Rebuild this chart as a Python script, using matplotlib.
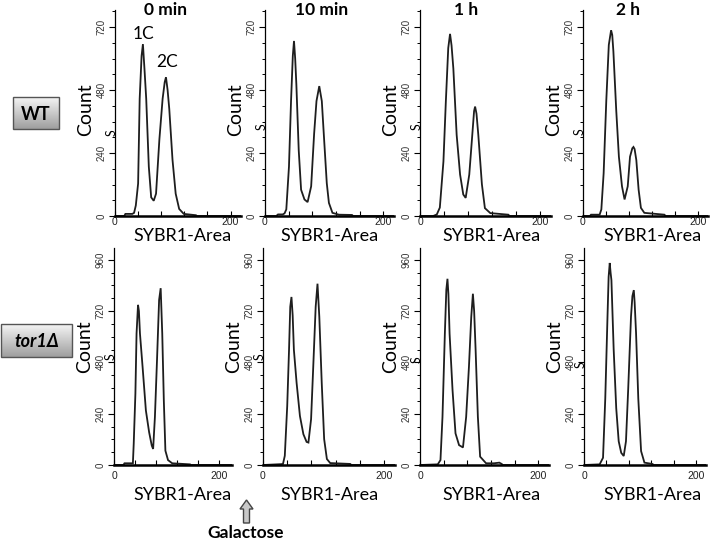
import numpy as np
import matplotlib
matplotlib.use("Agg")
import matplotlib.pyplot as plt
from matplotlib.patches import Polygon, Rectangle
from matplotlib.ticker import FixedLocator, MultipleLocator

# ---------------- data ----------------
titles = ["0 min", "10 min", "1 h", "2 h"]
row_labels = ["WT", "tor1Δ"]
x_label = "SYBR1-Area"
y_label = "Count"

wt0_x = [0, 16, 18, 30, 33, 36, 40, 42.7, 46, 48.3, 51, 54, 58.5, 62.6, 67, 71, 76.8, 82.4, 86, 88.2, 91, 93.9, 99.5, 105, 111, 119, 140, 142, 218]
wt0_y = [0, 0, 8, 8, 12, 40, 124, 447, 610, 655, 560, 447, 188, 71, 58, 85, 292, 447, 510, 529, 480, 408, 214, 85, 27, 8, 3, 0, 0]

wt10_x = [0, 19, 22, 30, 33, 36, 40.5, 44, 47, 49, 51, 53, 57, 61, 66.7, 72, 78, 83, 87, 91.7, 96, 100, 104.4, 108, 114, 125, 147, 149, 218]
wt10_y = [0, 0, 6, 6, 10, 25, 188, 438, 610, 667, 600, 501, 250, 100, 63, 53, 113, 313, 438, 495, 438, 288, 125, 50, 12, 5, 4, 0, 0]

wt1h_x = [0, 22, 28, 33, 39, 43, 47, 50, 52.5, 55.5, 61, 66.7, 72, 76, 82, 87, 90, 91.7, 94, 97, 103, 108, 117, 147, 149, 218]
wt1h_y = [0, 0, 6, 32, 208, 436, 640, 694, 650, 562, 309, 158, 82, 69, 158, 309, 400, 417, 390, 310, 121, 30, 11, 5, 0, 0]

wt2h_x = [0, 12, 14, 29, 32, 36, 40.6, 45, 49, 51, 53, 58, 62.6, 68, 72.5, 78, 82, 86, 88, 90, 93, 97, 101, 107, 142, 144, 218]
wt2h_y = [0, 0, 5, 5, 25, 163, 439, 652, 708, 690, 627, 401, 226, 113, 63, 113, 226, 258, 263, 255, 213, 100, 31, 12, 5, 0, 0]

tor0_x = [0, 18, 20, 36, 37.6, 40.8, 43, 45.8, 47.5, 49.5, 54.5, 60.8, 67, 72, 74.6, 78, 82, 86, 89, 92, 95, 98, 103, 111, 145, 147, 225]
tor0_y = [0, 0, 8, 8, 99, 334, 615, 749, 720, 615, 459, 255, 153, 91, 75, 224, 490, 772, 827, 615, 302, 67, 23, 8, 3, 0, 0]

tor10_x = [0, 30, 33, 36, 40, 43, 45, 47, 49, 51, 55.5, 61, 66.7, 72, 75, 79.4, 83, 87, 90, 93, 97, 101, 105.5, 111, 144, 146, 218]
tor10_y = [0, 4, 5, 43, 276, 539, 740, 786, 700, 539, 384, 229, 144, 108, 105, 214, 461, 740, 848, 693, 384, 121, 28, 9, 5, 0, 0]

tor1h_x = [0, 30, 34.6, 38, 42, 44.5, 46.4, 48, 50, 55, 60, 66, 72.6, 78, 82.7, 86.6, 89.4, 91.5, 94, 97.8, 101.6, 111.7, 125, 134, 138, 140, 218]
tor1h_y = [0, 3, 23, 225, 614, 820, 871, 800, 614, 350, 148, 93, 82, 225, 459, 692, 801, 720, 537, 225, 39, 8, 8, 11, 5, 0, 0]

tor2h_x = [0, 28, 34, 38, 42, 44, 46, 47.5, 49, 53, 57.6, 62, 66.5, 71, 75, 79, 84, 86.5, 89, 90.5, 93, 97, 102, 108, 122, 125, 218]
tor2h_y = [0, 3, 34, 311, 695, 880, 945, 900, 865, 542, 265, 111, 57, 42, 111, 357, 695, 790, 818, 760, 618, 311, 65, 11, 5, 0, 0]

series = [[(wt0_x, wt0_y), (wt10_x, wt10_y), (wt1h_x, wt1h_y), (wt2h_x, wt2h_y)],
          [(tor0_x, tor0_y), (tor10_x, tor10_y), (tor1h_x, tor1h_y), (tor2h_x, tor2h_y)]]

y_ticks_top = [0, 240, 480, 720]
y_ticks_bot = [0, 240, 480, 720, 960]
x_ticks = [0, 200]

# ---------------- layout (pixels) ----------------
W, H = 712, 540
fig = plt.figure(figsize=(W / 100, H / 100), dpi=100)
fig.patch.set_facecolor("white")

lefts = [[115, 265, 420, 583], [114, 263, 420, 584]]
widths = [[126, 129, 131, 125], [118, 132, 129, 122]]
xmaxs = [[218, 218, 218, 218], [225, 218, 218, 218]]
row_axis_y = [216, 465]
row_top = [10, 248]
row_ylim = [785, 1015]

def pbox(l, t, w, h):
    return [l / W, 1 - (t + h) / H, w / W, h / H]

for r in range(2):
    for c in range(4):
        l = lefts[r][c]
        w = widths[r][c]
        t = row_top[r]
        h = row_axis_y[r] - t
        ax = fig.add_axes(pbox(l, t, w, h))
        xs, ys = series[r][c]
        ax.plot(xs, ys, color="#1e1e1e", lw=1.3, solid_joinstyle="miter")
        ax.set_xlim(0, xmaxs[r][c])
        ax.set_ylim(0, row_ylim[r])
        for s in ["top", "right"]:
            ax.spines[s].set_visible(False)
        ax.spines["left"].set_linewidth(0.9)
        ax.spines["bottom"].set_linewidth(1.8)
        yt = y_ticks_top if r == 0 else y_ticks_bot
        ax.yaxis.set_major_locator(FixedLocator(yt))
        ax.yaxis.set_minor_locator(MultipleLocator(60))
        ax.set_yticklabels([str(v) for v in yt], rotation=90, va="center",
                           fontsize=7, family="Liberation Sans", color="#333")
        ax.xaxis.set_major_locator(FixedLocator(x_ticks))
        ax.xaxis.set_minor_locator(MultipleLocator(40))
        ax.set_xticklabels([str(v) for v in x_ticks], fontsize=7.5,
                           family="Liberation Sans", color="#222")
        ax.tick_params(axis="y", which="major", direction="out", length=4, width=0.8, pad=2)
        ax.tick_params(axis="y", which="minor", direction="out", length=2.5, width=0.7)
        ax.tick_params(axis="x", which="both", direction="in", length=3.5, width=0.8,
                       pad=1 if r == 0 else 4)
        ax.patch.set_alpha(0)

# overlay in pixel coordinates
ov = fig.add_axes([0, 0, 1, 1])
ov.axis("off")
ov.patch.set_alpha(0)

# titles
title_x = [165, 322, 466, 628]
for c in range(4):
    ov.text(title_x[c], 10, titles[c], ha="center", va="center", fontsize=12.5,
            fontweight="bold", family="Lato")

# Count labels, S marks, x labels
sybr_x = [[182, 329, 491, 652], [182, 329, 491, 652]]
sybr_y = [236, 495]
count_y = [110, 347]
s_y = [[133, 127, 127, 132], [357, 357, 360, 365]]
for r in range(2):
    for c in range(4):
        l = lefts[r][c]
        ov.text(l - 29, count_y[r], y_label, rotation=90, ha="center", va="center",
                fontsize=14, family="Lato")
        ov.text(l - 3, s_y[r][c], "S", rotation=90, ha="center", va="center",
                fontsize=9, family="Lato")
        ov.text(sybr_x[r][c], sybr_y[r], x_label, ha="center", va="center",
                fontsize=13, family="Lato")

# 1C / 2C
ov.text(143, 34, "1C", ha="center", va="center", fontsize=12.5, family="Lato")
ov.text(167, 62, "2C", ha="center", va="center", fontsize=12.5, family="Lato")

# row label boxes with gradient
def grad_box(x0, y0, x1, y1, text, style):
    grad = np.linspace(0, 1, 64).reshape(-1, 1)
    top_c = np.array([0.96, 0.96, 0.96])
    bot_c = np.array([0.62, 0.62, 0.62])
    img = (top_c + (bot_c - top_c) * grad).reshape(64, 1, 3)
    ov.imshow(img, extent=[x0, x1, y1, y0], aspect="auto", zorder=2)
    ov.add_patch(Rectangle((x0, y0), x1 - x0, y1 - y0, fill=False, ec="#555555", lw=1.0, zorder=3))
    ov.text((x0 + x1) / 2, (y0 + y1) / 2 + 1, text, ha="center", va="center",
            fontsize=13, fontweight="bold", style=style, family="Lato", zorder=4)

grad_box(13, 97, 59, 129, row_labels[0], "normal")
grad_box(1, 324, 72, 357, row_labels[1], "italic")

# Galactose arrow
ax0 = 246.5
arrow = Polygon([(ax0, 500), (ax0 + 6.5, 509), (ax0 + 3, 509), (ax0 + 3, 523),
                 (ax0 - 3, 523), (ax0 - 3, 509), (ax0 - 6.5, 509)],
                closed=True, fc="#c8c8c8", ec="#444444", lw=1.0, zorder=3)
ov.add_patch(arrow)
ov.text(246, 533, "Galactose", ha="center", va="center", fontsize=12.5,
        fontweight="bold", family="Lato")

ov.set_xlim(0, W)
ov.set_ylim(H, 0)

fig.savefig("out.png", dpi=100)
